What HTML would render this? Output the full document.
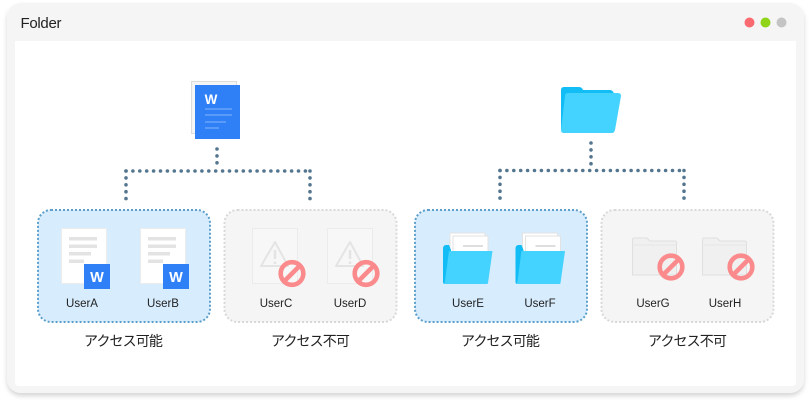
<!DOCTYPE html>
<html lang="ja">
<head>
<meta charset="utf-8">
<style>
html,body{margin:0;padding:0;background:#fff;width:812px;height:406px;overflow:hidden}
svg{display:block}
text{font-family:"Liberation Sans","Noto Sans CJK JP",sans-serif;fill:#222}
.u{font-size:11.5px;text-anchor:middle}
.j{font-size:14px;text-anchor:middle;letter-spacing:-.9px}
</style>
</head>
<body>
<svg width="812" height="406" viewBox="0 0 812 406" xmlns="http://www.w3.org/2000/svg">
<defs>
<filter id="sh" x="-5%" y="-5%" width="110%" height="115%"><feDropShadow dx="0" dy="3" stdDeviation="2.5" flood-color="#000" flood-opacity=".16"/></filter>
<g id="docw">
<rect x="0.5" y="0.5" width="45" height="55" fill="#fff" stroke="#ececec"/>
<rect x="8" y="9" width="28" height="3.5" fill="#e3e3e3"/>
<rect x="8" y="16.5" width="28" height="3.5" fill="#e3e3e3"/>
<rect x="8" y="24" width="22" height="3.5" fill="#e3e3e3"/>
<rect x="8" y="31.5" width="15" height="3.5" fill="#e3e3e3"/>
<rect x="23" y="36" width="26" height="25" fill="#2f80f7"/>
<text x="36" y="54" font-size="14.5" font-weight="700" text-anchor="middle" style="fill:#fff">W</text>
</g>
<g id="no">
<circle r="11.300" fill="none" stroke="#fb8a8c" stroke-width="4.600"/>
<path d="M-8 8L8-8" stroke="#fb8a8c" stroke-width="4.600"/>
</g>
<g id="docx">
<rect x="0.5" y="0.5" width="45" height="55" fill="#f7f7f7" stroke="#ebebeb"/>
<path d="M23 14L36 38H9Z" fill="none" stroke="#e4e4e4" stroke-width="2" stroke-linejoin="round"/>
<path d="M23 22V31M23 33.5V36" stroke="#e4e4e4" stroke-width="2.5"/>
</g>
<g id="fold">
<rect x="7" y="-12" width="35" height="30" fill="#fff" stroke="#e2e2e2"/>
<rect x="10" y="-9" width="35" height="30" fill="#fff" stroke="#e2e2e2"/>
<rect x="20" y="0" width="20" height="2" fill="#dedede"/>
<path d="M0 4Q0 0 3 0H6L8 5V39H2Q0 39 0 37Z" fill="#12bdf6"/>
<path d="M6 6H49.500L45 38Q45 39 43 39H1Q1 39 2 36Z" fill="#44d2ff"/>
</g>
<g id="grayf">
<path d="M0.500 38V3Q0.500 1 2 1H15L18 4H43Q44.500 4 44.500 6V38Z" fill="#f0f0f0" stroke="#dfdfdf"/>
<path d="M0.500 8H44.500" stroke="#e6e6e6"/>
</g>
</defs>

<rect x="7" y="3" width="797" height="390" rx="14" fill="#f5f5f5" filter="url(#sh)"/>
<path d="M15 41H796V382Q796 386 792 386H19Q15 386 15 382Z" fill="#fff"/>
<text x="20.500" y="28" font-size="15" letter-spacing="-.3">Folder</text>
<circle cx="749.500" cy="22.500" r="5" fill="#fb6a70"/>
<circle cx="765.500" cy="22.500" r="5" fill="#8fd418"/>
<circle cx="781.500" cy="22.500" r="5" fill="#c4c4c4"/>

<!-- top document icon -->
<rect x="191.500" y="81.500" width="45" height="52" fill="#f5f5f5" stroke="#dcdcdc"/>
<rect x="195" y="85" width="45" height="54" fill="#2f80f7"/>
<text x="211" y="104" font-size="13.500" font-weight="700" text-anchor="middle" style="fill:#fff">W</text>
<path d="M205 109H232M205 115H232M205 122H226M205 128H219" stroke="#74a9f9" stroke-width="1.300"/>

<!-- top folder icon -->
<path d="M561 90Q561 87 564 87H579Q582 87 583 90H610Q613 90 614 94V130H563Q561 130 561 128Z" fill="#12bdf6"/>
<path d="M568 93H618Q621 93 621 96L615 130Q614 133 612 133H564Q561 133 561 130L565 96Q565 93 568 93Z" fill="#44d2ff"/>

<!-- connectors -->
<g fill="none" stroke="#55768f" stroke-width="3.600" stroke-linecap="round" stroke-dasharray="0 6.900">
<path d="M217 149V165"/>
<path d="M126 171H310"/>
<path d="M126 171V200"/>
<path d="M310 171V200"/>
<path d="M591 143V165"/>
<path d="M500 170.500H684"/>
<path d="M500 170.500V199"/>
<path d="M684 170.500V199"/>
</g>

<!-- panels -->
<rect x="38" y="210" width="172" height="112" rx="13" fill="#d7ecfd" stroke="#5c9fcb" stroke-width="2" stroke-dasharray="2 2"/>
<rect x="224.500" y="210" width="172" height="112" rx="13" fill="#f5f5f5" stroke="#d8d8d8" stroke-width="2" stroke-dasharray="2 2"/>
<rect x="415" y="210" width="172" height="112" rx="13" fill="#d7ecfd" stroke="#5c9fcb" stroke-width="2" stroke-dasharray="2 2"/>
<rect x="601.500" y="210" width="172" height="112" rx="13" fill="#f5f5f5" stroke="#d8d8d8" stroke-width="2" stroke-dasharray="2 2"/>

<!-- panel icons -->
<use href="#docw" x="61" y="228"/>
<use href="#docw" x="140" y="228"/>
<use href="#docx" x="252" y="228"/>
<use href="#no" x="292" y="273.500"/>
<use href="#docx" x="327" y="228"/>
<use href="#no" x="366" y="273.500"/>
<use href="#fold" x="443" y="245"/>
<use href="#fold" x="515.500" y="245"/>
<use href="#grayf" x="632" y="237"/>
<use href="#no" x="671" y="267"/>
<use href="#grayf" x="702" y="237"/>
<use href="#no" x="741" y="267"/>

<!-- labels -->
<text class="u" x="82" y="307">UserA</text>
<text class="u" x="163" y="307">UserB</text>
<text class="u" x="276" y="307">UserC</text>
<text class="u" x="350" y="307">UserD</text>
<text class="u" x="468" y="307">UserE</text>
<text class="u" x="540" y="307">UserF</text>
<text class="u" x="653" y="307">UserG</text>
<text class="u" x="725" y="307">UserH</text>
<text class="j" x="123" y="346">アクセス可能</text>
<text class="j" x="310" y="346">アクセス不可</text>
<text class="j" x="500" y="346">アクセス可能</text>
<text class="j" x="687" y="346">アクセス不可</text>
</svg>
</body>
</html>
